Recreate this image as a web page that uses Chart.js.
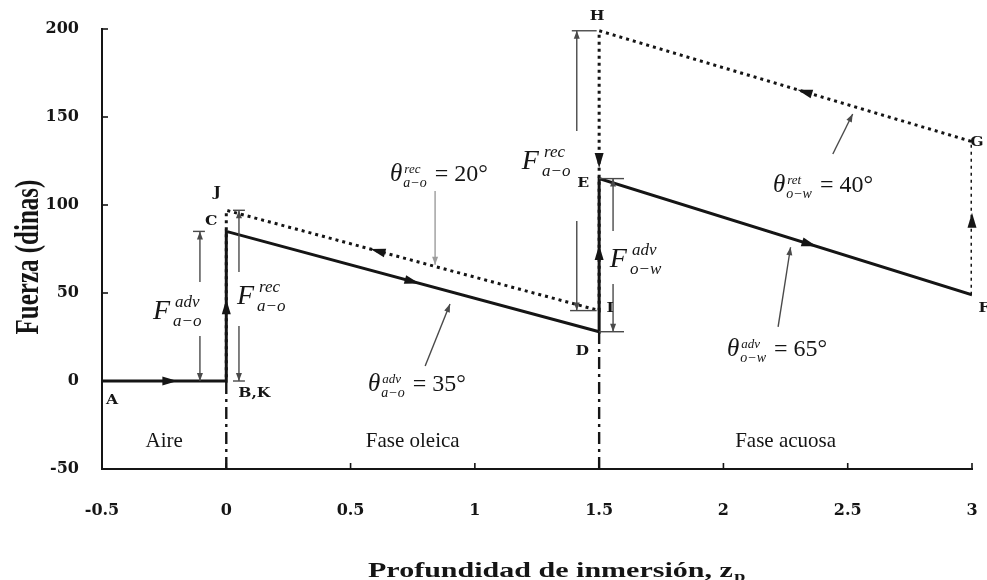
<!DOCTYPE html>
<html lang="es">
<head>
<meta charset="utf-8">
<title>Fuerza frente a profundidad de inmersión</title>
<script src="https://cdn.jsdelivr.net/npm/chart.js@4.4.1/dist/chart.umd.min.js"></script>
<style>
  html, body { margin: 0; padding: 0; background: #fff; }
  #box { position: relative; width: 987px; height: 580px; }
</style>
</head>
<body>
<div id="box"><canvas id="chart" width="987" height="580"></canvas></div>
<script>
// Advancing run (solid): A -> B -> C -> D -> E -> F
const advX = [-0.5, 0, 0, 1.5, 1.5, 3];
const advY = [0, 0, 85, 28, 115, 49];
const advNames = ['A', 'B,K', 'C', 'D', 'E', 'F'];

// Receding run (dotted): F -> G -> H -> I -> J -> K
const recX = [3, 3, 1.5, 1.5, 0, 0];
const recY = [49, 136, 199, 40, 97, 0];
const recNames = ['', 'G', 'H', 'I', 'J', ''];

// Phase limits along the immersion depth
const phaseEdges = [-0.5, 0, 1.5, 3];
const phaseNames = ['Aire', 'Fase oleica', 'Fase acuosa'];
// Interfaces drawn dash-dot from the bottom of the axis up to the advancing curve
const interfaceX = [0, 1.5];
const interfaceTop = [advY[1], advY[3]];

const xTicks = [-0.5, 0, 0.5, 1, 1.5, 2, 2.5, 3];
const yTicks = [-50, 0, 50, 100, 150, 200];

const INK = '#151515';
const THIN = '#4a4a4a';

// ---------- annotation layout (data coordinates unless noted) ----------
// name label offsets in pixels from their point
const nameOffset = {
  'A': [10, 20], 'B,K': [28, 13], 'C': [-15, -10], 'D': [-17, 20], 'E': [-16, 5],
  'F': [12, 14], 'G': [5, 1], 'H': [-2, -14], 'I': [11, -2], 'J': [-9, -18]
};
// direction arrows: which run, which segment, fraction along it
const runArrows = [
  ['adv', 0, 0.55], ['adv', 1, 0.5], ['adv', 2, 0.5], ['adv', 3, 0.52], ['adv', 4, 0.565],
  ['rec', 0, 0.49], ['rec', 1, 0.45], ['rec', 2, 0.465], ['rec', 3, 0.595]
];
// force spans (double-headed), with the gap left for their label
const spans = [
  { x: -0.106, y0: advY[1], y1: advY[2], gap: [25.6, 56.3], cap0: null, cap1: [-0.134, -0.086] },
  { x: 0.051, y0: recY[5], y1: recY[4], gap: [31.3, 61.9], cap0: [0.027, 0.075], cap1: [0.027, 0.075] },
  { x: 1.41, y0: recY[3], y1: recY[2], gap: [90.9, 142], cap0: [1.383, 1.49], cap1: [1.39, 1.49] },
  { x: 1.556, y0: advY[3], y1: advY[4], gap: [55.1, 85.2], cap0: [1.5, 1.6], cap1: [1.5, 1.6] }
];
// leader lines from the angle labels to the curves
const leaders = [
  { from: [0.84, 108], to: [0.84, 66], color: '#9c9c9c' },
  { from: [0.80, 8.5], to: [0.90, 43.7], color: THIN },
  { from: [2.44, 129], to: [2.52, 151.7], color: THIN },
  { from: [2.22, 30.7], to: [2.27, 76], color: THIN }
];
// math labels: symbol, superscript, subscript, trailing text, left/baseline position
const mathLabels = [
  { sym: 'F', sup: 'adv', sub: 'a\u2212o', tail: '', x: -0.295, y: 35.2 },
  { sym: 'F', sup: 'rec', sub: 'a\u2212o', tail: '', x: 0.043, y: 43.8 },
  { sym: 'F', sup: 'rec', sub: 'a\u2212o', tail: '', x: 1.189, y: 120.5 },
  { sym: 'F', sup: 'adv', sub: 'o\u2212w', tail: '', x: 1.543, y: 64.8 },
  { sym: '\u03b8', sup: 'rec', sub: 'a\u2212o', tail: '= 20\u00b0', x: 0.659, y: 113.6 },
  { sym: '\u03b8', sup: 'adv', sub: 'a\u2212o', tail: '= 35\u00b0', x: 0.570, y: -5.7 },
  { sym: '\u03b8', sup: 'ret', sub: 'o\u2212w', tail: '= 40\u00b0', x: 2.199, y: 107.4 },
  { sym: '\u03b8', sup: 'adv', sub: 'o\u2212w', tail: '= 65\u00b0', x: 2.014, y: 14.2 }
];

const toPoints = (xs, ys) => xs.map((x, i) => ({ x, y: ys[i] }));

const interfaceSets = interfaceX.map((x, i) => ({
  data: [{ x, y: yTicks[0] }, { x, y: interfaceTop[i] }],
  showLine: true, borderColor: INK, borderWidth: 2.4, borderDash: [12, 5, 3, 5],
  pointRadius: 0, tension: 0
}));

const sketch = {
  id: 'sketch',
  beforeDraw(chart) {
    const c = chart.ctx;
    c.save(); c.fillStyle = '#fff'; c.fillRect(0, 0, chart.width, chart.height); c.restore();
  },
  afterDraw(chart) {
    const c = chart.ctx;
    const sx = chart.scales.x, sy = chart.scales.y;
    const px = v => sx.getPixelForValue(v);
    const py = v => sy.getPixelForValue(v);
    const area = chart.chartArea;
    const seg = (x0, y0, x1, y1) => { c.beginPath(); c.moveTo(x0, y0); c.lineTo(x1, y1); c.stroke(); };
    const head = (x, y, ang, len, hw) => {
      c.save(); c.translate(x, y); c.rotate(ang);
      c.beginPath(); c.moveTo(0, 0); c.lineTo(-len, -hw); c.lineTo(-len, hw); c.closePath(); c.fill();
      c.restore();
    };
    c.save();

    // inward tick marks on both axes
    c.strokeStyle = INK; c.lineWidth = 1.6;
    yTicks.forEach(v => seg(area.left, py(v), area.left + 6, py(v)));
    xTicks.forEach(v => seg(px(v), area.bottom, px(v), area.bottom - 6));

    // direction arrows on both runs
    c.fillStyle = INK;
    const runs = { adv: [advX, advY], rec: [recX, recY] };
    runArrows.forEach(([run, i, t]) => {
      const [xs, ys] = runs[run];
      const x0 = px(xs[i]), y0 = py(ys[i]), x1 = px(xs[i + 1]), y1 = py(ys[i + 1]);
      const ang = Math.atan2(y1 - y0, x1 - x0);
      const cx = x0 + (x1 - x0) * t, cy = y0 + (y1 - y0) * t;
      head(cx + Math.cos(ang) * 7, cy + Math.sin(ang) * 7, ang, 15, 4.5);
    });

    // force spans
    c.strokeStyle = THIN; c.fillStyle = THIN; c.lineWidth = 1.4;
    spans.forEach(s => {
      const x = px(s.x);
      const yLo = py(s.y0), yHi = py(s.y1);
      seg(x, yLo, x, py(s.gap[0]));
      seg(x, py(s.gap[1]), x, yHi);
      head(x, yHi, -Math.PI / 2, 8, 3);
      head(x, yLo, Math.PI / 2, 8, 3);
      if (s.cap0) seg(px(s.cap0[0]), yLo, px(s.cap0[1]), yLo);
      if (s.cap1) seg(px(s.cap1[0]), yHi, px(s.cap1[1]), yHi);
    });

    // leader lines
    leaders.forEach(l => {
      c.strokeStyle = l.color; c.fillStyle = l.color; c.lineWidth = 1.4;
      const x0 = px(l.from[0]), y0 = py(l.from[1]), x1 = px(l.to[0]), y1 = py(l.to[1]);
      seg(x0, y0, x1, y1);
      head(x1, y1, Math.atan2(y1 - y0, x1 - x0), 8, 3);
    });

    // point names (bold, slightly widened)
    c.fillStyle = INK; c.textAlign = 'center'; c.textBaseline = 'middle';
    c.font = 'bold 13px "DejaVu Serif"';
    const name = (label, x, y) => {
      if (!label) return;
      const o = nameOffset[label];
      c.save(); c.translate(px(x) + o[0], py(y) + o[1]); c.scale(1.2, 1);
      c.fillText(label, 0, 0); c.restore();
    };
    advNames.forEach((n, i) => name(n, advX[i], advY[i]));
    recNames.forEach((n, i) => name(n, recX[i], recY[i]));

    // math labels on white boxes
    c.textAlign = 'left'; c.textBaseline = 'alphabetic';
    mathLabels.forEach(m => {
      const isF = m.sym === 'F';
      const big = isF ? 28 : 25, supSz = isF ? 17 : 13, subSz = isF ? 17 : 14;
      const supDy = isF ? -12 : -8, subDy = isF ? 7 : 6;
      const x0 = px(m.x), base = py(m.y);
      c.font = `italic ${big}px "Liberation Serif"`;
      const wSym = c.measureText(m.sym).width;
      c.font = `italic ${supSz}px "Liberation Serif"`;
      const wSup = c.measureText(m.sup).width;
      c.font = `italic ${subSz}px "Liberation Serif"`;
      const wSub = c.measureText(m.sub).width;
      const scrX = x0 + wSym + (isF ? 3 : 1);
      const tailX = scrX + Math.max(wSup, wSub) + 8;
      c.font = '24px "Liberation Serif"';
      const wTail = m.tail ? c.measureText(m.tail).width : 0;
      const right = m.tail ? tailX + wTail : scrX + Math.max(wSup, wSub);
      c.fillStyle = '#fff';
      c.fillRect(x0 - 4, base - big * 0.85, right - x0 + 8, big * 1.2);
      c.fillStyle = INK;
      c.font = `italic ${big}px "Liberation Serif"`;
      c.fillText(m.sym, x0, base);
      c.font = `italic ${supSz}px "Liberation Serif"`;
      c.fillText(m.sup, scrX + (isF ? 2 : 1), base + supDy);
      c.font = `italic ${subSz}px "Liberation Serif"`;
      c.fillText(m.sub, scrX, base + subDy);
      if (m.tail) { c.font = '24px "Liberation Serif"'; c.fillText(m.tail, tailX, base); }
    });

    // phase names
    c.textAlign = 'center'; c.font = '21px "Liberation Serif"'; c.fillStyle = INK;
    phaseNames.forEach((n, i) => {
      const mid = (phaseEdges[i] + phaseEdges[i + 1]) / 2;
      c.fillText(n, px(mid), py(-37.5));
    });

    // axis titles (bold serif, widened)
    c.save();
    c.translate(38, (area.top + area.bottom) / 2 + 8);
    c.rotate(-Math.PI / 2); c.scale(1, 1.33);
    c.textAlign = 'center'; c.textBaseline = 'alphabetic';
    c.font = 'bold 25px "Liberation Serif"';
    c.fillText('Fuerza (dinas)', 0, 0);
    c.restore();

    c.save();
    c.translate(368, 577); c.scale(1.43, 1);
    c.textAlign = 'left'; c.textBaseline = 'alphabetic';
    c.font = 'bold 21px "Liberation Serif"';
    const main = 'Profundidad de inmersi\u00f3n, z';
    c.fillText(main, 0, 0);
    const w = c.measureText(main).width;
    c.font = 'bold 14px "Liberation Serif"';
    c.fillText('p', w + 1, 4);
    c.restore();

    c.restore();
  }
};

new Chart(document.getElementById('chart'), {
  type: 'scatter',
  data: {
    datasets: [
      { data: toPoints(advX, advY), showLine: true, borderColor: INK, borderWidth: 3,
        pointRadius: 0, tension: 0 },
      { data: toPoints(recX, recY), showLine: true, borderColor: INK, borderWidth: 3,
        borderDash: [3, 4], pointRadius: 0, tension: 0 },
      ...interfaceSets
    ]
  },
  options: {
    responsive: false,
    animation: false,
    devicePixelRatio: 1,
    layout: { padding: { left: 0, right: 15, top: 29, bottom: 0 } },
    plugins: { legend: { display: false }, tooltip: { enabled: false } },
    scales: {
      x: {
        type: 'linear', min: -0.5, max: 3,
        afterBuildTicks: s => { s.ticks = xTicks.map(v => ({ value: v })); },
        afterFit: s => { s.height = 111; s.paddingLeft = 0; s.paddingRight = 0; },
        grid: { display: false },
        border: { display: true, color: INK, width: 2 },
        ticks: {
          color: INK, padding: 24, maxRotation: 0, autoSkip: false,
          font: { family: 'DejaVu Serif', weight: 'bold', size: 16 },
          callback: v => String(v)
        }
      },
      y: {
        type: 'linear', min: -50, max: 200,
        afterBuildTicks: s => { s.ticks = yTicks.map(v => ({ value: v })); },
        afterFit: s => { s.width = 102; },
        grid: { display: false },
        border: { display: true, color: INK, width: 2 },
        ticks: {
          color: INK, padding: 15,
          font: { family: 'DejaVu Serif', weight: 'bold', size: 16 },
          callback: v => String(v)
        }
      }
    }
  },
  plugins: [sketch]
});
</script>
</body>
</html>
